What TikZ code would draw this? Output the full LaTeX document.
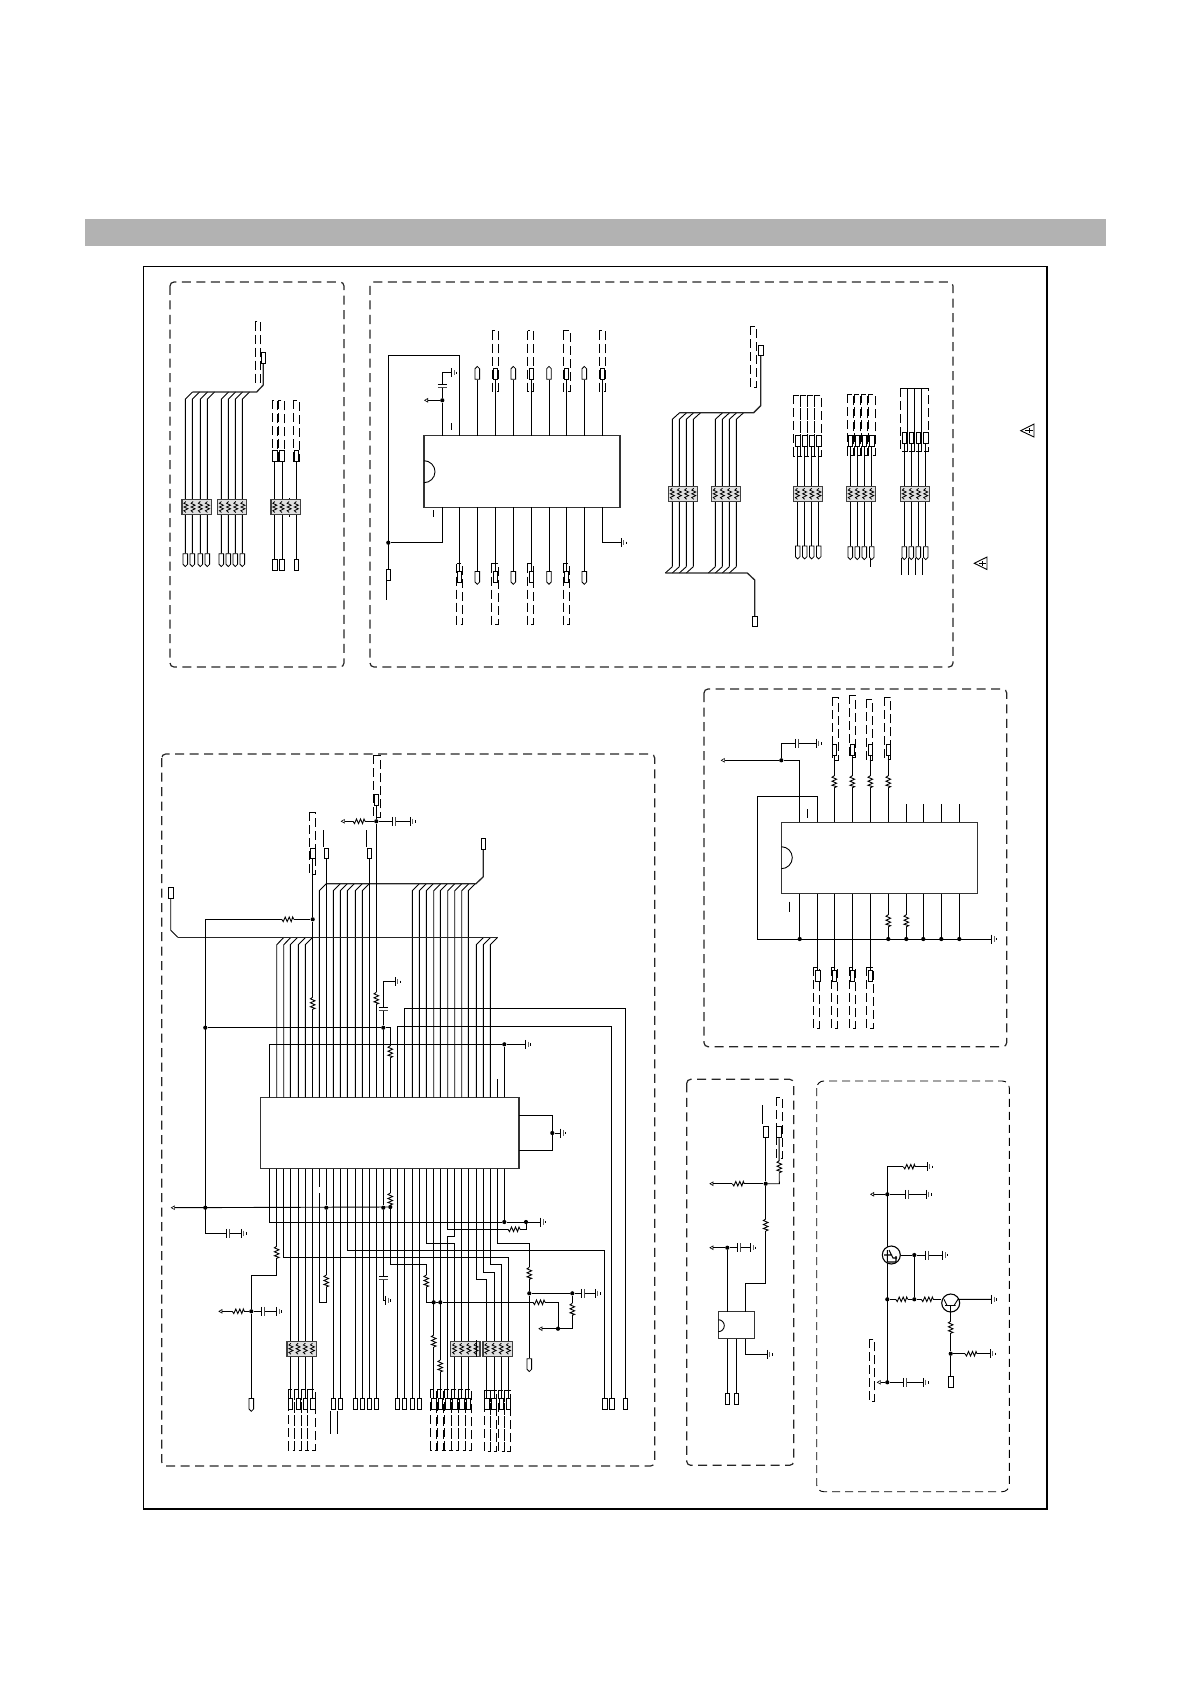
\documentclass[tikz,border=0pt]{standalone}
\usepackage{amsmath, tikz, xcolor}
\usetikzlibrary{arrows.meta, calc, shapes.symbols}
\definecolor{band}{gray}{0.70}
\tikzset{
  wire/.style={line width=0.9pt},
  bus/.style={line width=1.3pt, black!85},
  group/.style={line width=1.2pt, black!85, dash pattern=on 9pt off 5.5pt, rounded corners=4pt},
  dbox/.style={line width=0.7pt, dash pattern=on 9pt off 4pt},
  chip/.style={draw, black!80, fill=white, line width=1.5pt},
  term/.style={draw, fill=white, shape=rectangle, minimum width=4.6pt, minimum height=10.6pt, inner sep=0pt, line width=0.8pt},
  termd/.style={term, shape=signal, signal to=south, signal pointer angle=90},
  termu/.style={term, shape=signal, signal to=north, signal pointer angle=90},
  dot/.style={circle, fill, inner sep=0pt, minimum size=4.2pt},
  sig/.style={wire, -{Triangle[open,length=4pt,width=4.5pt,line width=0.6pt]}},
  vres/.pic={
    \draw[white,line width=1.8pt] (0,-6) -- (0,6);
    \draw[wire] (0,-6) -- (-2.3,-4.5) -- (2.3,-2.5) -- (-2.3,-0.5) -- (2.3,1.5) -- (-2.3,3.5) -- (2.3,5) -- (0,6);
  },
  hres/.pic={
    \draw[white,line width=1.8pt] (-6,0) -- (6,0);
    \draw[wire] (-6,0) -- (-4.5,2.3) -- (-2.5,-2.3) -- (-0.5,2.3) -- (1.5,-2.3) -- (3.5,2.3) -- (5,-2.3) -- (6,0);
  },
  hcap/.pic={
    \draw[white,line width=1.8pt] (-1.5,0) -- (1.5,0);
    \draw[wire] (-1.5,-4.5) -- (-1.5,4.5);
    \draw[line width=1.3pt,black!70] (1.5,-4.5) -- (1.5,4.5);
  },
  vcap/.pic={
    \draw[white,line width=1.8pt] (0,-1.5) -- (0,1.5);
    \draw[wire] (-4.5,-1.5) -- (4.5,-1.5);
    \draw[line width=1.3pt,black!70] (-4.5,1.5) -- (4.5,1.5);
  },
  gnd/.pic={
    \draw[wire] (0,-4.5) -- (0,4.5);
    \draw[line width=1.1pt,black!60] (2.6,-2.6) -- (2.6,2.6);
    \draw[wire] (5,-1.2) -- (5,1.2);
  },
  pack/.pic={
    \draw[fill=black!12,draw=black!75,line width=1.3pt] (-14.6,-7.5) rectangle (14.6,7.5);
    \foreach \o in {-10.75,-3.6,3.6,10.75} {
      \draw[line width=0.8pt] (\o,-5.5) -- (\o-2,-3.7) -- (\o+2,-1.8) -- (\o-2,0) -- (\o+2,1.8) -- (\o-2,3.7) -- (\o,5.5);
    };
  },
}
\newcommand{\dbx}[4]{\draw[dbox] (#1,#2) rectangle (#3,#4);}
\newcommand{\jn}[3]{\node[dot] (#1) at (#2,#3) {};}
\begin{document}
\begin{tikzpicture}[x=1pt,y=-1pt]
\useasboundingbox (0,0) rectangle (1191,1685);
\fill[band] (85,219) rectangle (1106,246);
\draw[line width=1.1pt] (143.5,266.5) rectangle (1047,1509);
\draw[group] (170,282) rectangle (344,667);
\draw[group] (370,282) rectangle (953,667);
\draw[group] (161.7,754) rectangle (654.7,1466);
\draw[group] (704,689) rectangle (1006.7,1046.7);
\draw[group] (686.7,1079.3) rectangle (793.7,1465.3);
\draw[group, black, line width=0.9pt, dash pattern=on 8pt off 5pt, rounded corners=7pt] (816.7,1081) rectangle (1009.3,1491.7);

% first box: two buses and three lines
\foreach \x [count=\i] in {185.3,192.3,200.3,207.3,221.3,228.3,235.3,242.3} {
  \node[termd] (sa\i) at (\x,559) {};
  \draw[wire] (sa\i) -- (\x,399.3) -- ++(7.3,-7.3);
}
\draw[bus] (192.7,392) -- (256.7,392) -- (263.3,385) -- (263.3,363);
\node[term] (ta) at (263.3,358) {};
\dbx{255.3}{321.7}{260.7}{382.3}
\pic at (196.7,507) {pack};
\pic at (232.2,507) {pack};
\foreach \x/\a/\b [count=\i] in {274.7/272.3/277.3,282/278.7/284.3,296.3/293.3/299.3} {
  \dbx{\a}{400.3}{\b}{461}
  \node[term] (tb\i) at (\x,456) {};
  \node[term] (sb\i) at (\x,565) {};
  \draw[wire] (tb\i) -- (sb\i);
}
\draw[wire] (289,498) -- (289,517);
\pic at (285.6,507) {pack};

% second box: chip
\node[chip, minimum width=196pt, minimum height=71.6pt, inner sep=0pt] (ica) at (522,471.5) {};
\draw[wire] (424,460.7) arc (-90:90:11);
\foreach \x/\k [count=\i] in {477.3/0,513.3/0,549/0,584.3/0} {
  \node[termu] (uc\i) at (\x,374) {};
  \draw[wire] (uc\i) -- (\x,435.7);
}
\foreach \x/\a/\b [count=\i] in {495.3/492.3/498.3,531.3/527.7/533.3,566.3/563.3/570.7,602.3/599.3/605.3} {
  \dbx{\a}{330.7}{\b}{391}
  \node[term] (ud\i) at (\x,374) {};
  \draw[wire] (ud\i) -- (\x,435.7);
}
\foreach \x [count=\i] in {477.3,513.3,549,584.3} {
  \node[termd] (lc\i) at (\x,576.7) {};
  \draw[wire] (\x,507.3) -- (lc\i);
}
\foreach \x/\a/\b [count=\i] in {459.3/456.7/462.7,495.3/491.3/498.7,531.3/527.3/533.3,566.3/563.3/569.7} {
  \dbx{\a}{563.5}{\b}{624.5}
  \node[term] (ld\i) at (\x,576.7) {};
  \draw[wire] (\x,507.3) -- (ld\i);
}
\jn{dca}{442.3}{400.3}
\draw[wire] (442.3,435.7) -- (dca) -- (442.3,372.7) -- (451.7,372.7);
\pic at (442.3,386) {vcap};
\pic at (451.7,372.7) {gnd};
\draw[sig] (dca) -- (424,400.3);
\draw[wire] (459.3,435.7) -- (459.3,355.3) -- (388.3,355.3) -- (388.3,570);
\jn{dcb}{388.3}{542.7}
\draw[wire] (dcb) -- (442.3,542.7) -- (442.3,507.3);
\node[term] (tc) at (388.3,575) {};
\draw[wire] (386.7,579) -- (386.7,600);
\draw[wire] (451.7,423) -- (451.7,430);
\draw[wire] (433.7,510) -- (433.7,517);
\draw[wire] (602.3,507.3) -- (602.3,542.7) -- (621,542.7);
\pic at (621,542.7) {gnd};

% second box: buses
\foreach \x [count=\i] in {672.3,679.3,686.3,693.3,715.3,722.3,729.3,736.3} {
  \draw[wire] (\x,566.7) -- (\x,419.3) -- ++(7.3,-6.6);
  \draw[wire] (\x,566.7) -- ++(-7,6.3);
}
\draw[bus] (679.3,412.7) -- (753.7,412.7) -- (760.7,405.7) -- (760.7,356);
\node[term] (td) at (760.7,350.5) {};
\dbx{750.3}{326.3}{756.7}{387.3}
\draw[bus] (665.3,573) -- (747.3,573) -- (754.7,580) -- (754.7,616);
\node[term] (te) at (754.7,621.3) {};
\pic at (683,493.8) {pack};
\pic at (726,493.8) {pack};

% second box: three sets of four
\foreach \x [count=\i] in {797.7,804.7,811.7,818.7} {
  \dbx{\x-4.2}{395.3}{\x+3}{456}
  \node[term] (fa\i) at (\x,441) {};
  \node[termd] (ga\i) at (\x,551.3) {};
  \draw[wire] (fa\i) -- (ga\i);
}
\foreach \x [count=\i] in {850.3,857.3,864.3,871.7} {
  \dbx{\x-3.3}{394.3}{\x+3.3}{455}
  \node[term] (fb\i) at (\x,441) {};
  \node[termd] (gb\i) at (\x,552) {};
  \draw[wire] (fb\i) -- (gb\i);
}
\draw[wire] (870.7,558) -- (870.7,567);
\foreach \x [count=\i] in {904.3,911.3,918.3,925.7} {
  \dbx{\x-4.3}{388.3}{\x+3}{451}
  \node[term] (fc\i) at (\x,438) {};
  \node[termd] (gc\i) at (\x,552) {};
  \draw[wire] (fc\i) -- (gc\i);
  \draw[wire] (\x-3.3,558) -- (\x-3.3,575);
}
\pic at (808.2,493.8) {pack};
\pic at (861,493.8) {pack};
\pic at (915,493.8) {pack};
\draw[wire] (1020.7,430.7) -- (1034,424) -- (1034,437) -- cycle;
\draw[line width=0.5pt] (1025,430.7) -- (1033,430.7) (1029,428) -- (1029,433);
\draw[wire] (974.3,563.3) -- (987,557) -- (987,569.5) -- cycle;
\draw[line width=0.5pt] (979,563.3) -- (986,563.3) (982,561) -- (982,566);

% big chip: pins on top
\node[chip, minimum width=258.7pt, minimum height=71.4pt, inner sep=0pt] (icb) at (389.7,1133) {};
\foreach \x in {276.7,283.7,290.3,298.3,305.3,476.3,483.3,490.3} {
  \draw[wire] (\x,1097.3) -- (\x,944.7) -- ++(7.3,-7.4);
}
\foreach \x in {319.3,333.3,340.3,347.3,355.3,362.3,412.3,419.3,426.3,433.7,440.3,447.7,454.7,461.7,468.3} {
  \draw[wire] (\x,1097.3) -- (\x,890.7) -- ++(7,-7);
}
\draw[bus] (177.7,937.3) -- (497.7,937.3);
\draw[wire] (177.7,937.3) -- (170.7,930.3) -- (170.7,898);
\node[term] (tf) at (170.7,893) {};
\draw[bus] (326.3,883.7) -- (476,883.7) -- (483.3,876.7) -- (483.3,849);
\node[term] (tg) at (483.3,843.7) {};
\dbx{309.3}{812.3}{315.7}{874.7}
\node[term] (th) at (312.7,853.3) {};
\jn{dh}{312.7}{919.3}
\draw[wire] (312.7,1097.3) -- (dh) -- (th);
\pic at (312.7,1003.3) {vres};
\draw[wire] (dh) -- (205.3,919.3) -- (205.3,1233.3) -- (228,1233.3);
\pic at (287.7,919.3) {hres};
\pic at (228,1233.3) {hcap};
\draw[wire] (229.5,1233.3) -- (241,1233.3);
\pic at (241,1233.3) {gnd};
\node[term] (ti) at (326.3,853.3) {};
\draw[wire] (326.3,1097.3) -- (ti);
\draw[wire] (323.3,830) -- (323.3,847);
\node[term] (tj) at (369.3,853.3) {};
\draw[wire] (369.3,1097.3) -- (tj);
\draw[wire] (366.3,830) -- (366.3,847);
\dbx{373.3}{755}{380}{817.3}
\node[term] (tk) at (376.3,799.7) {};
\jn{dk}{376.3}{821.3}
\draw[wire] (376.3,1097.3) -- (dk) -- (tk);
\pic at (376.3,998.3) {vres};
\draw[sig] (dk) -- (340.7,821.3);
\pic at (359,821.3) {hres};
\draw[wire] (dk) -- (410,821.3);
\pic at (394,821.3) {hcap};
\pic at (410,821.3) {gnd};
\jn{dl}{383.3}{1027.7}
\jn{dm}{205.3}{1027.7}
\draw[wire] (383.3,1097.3) -- (dl) -- (383.3,981.7) -- (395,981.7);
\pic at (383.3,1009.3) {vcap};
\pic at (395,981.7) {gnd};
\draw[wire] (dm) -- (dl) -- (390.3,1027.7) -- (390.3,1097.3);
\pic at (390.3,1051.7) {vres};
\draw[wire] (397.3,1097.3) -- (397.3,1026.3) -- (611.7,1026.3) -- (611.7,1398);
\draw[wire] (404.3,1097.3) -- (404.3,1008.3) -- (625.3,1008.3) -- (625.3,1398);
\draw[wire] (497.3,1097.3) -- (497.3,1079.3);
\jn{dn}{504.3}{1044.3}
\draw[wire] (269.3,1097.3) -- (269.3,1044.3) -- (dn) -- (525.7,1044.3);
\draw[wire] (504.3,1097.3) -- (dn);
\pic at (525.7,1044.3) {gnd};
\jn{dp}{552.3}{1133}
\draw[wire] (519,1115.7) -- (552.3,1115.7) -- (552.3,1150.3) -- (519,1150.3);
\draw[wire] (dp) -- (560.7,1133);
\pic at (560.7,1133) {gnd};

% big chip: pins below
\jn{dq}{504.3}{1222}
\jn{dr}{526}{1222}
\draw[wire] (269.3,1168.7) -- (269.3,1222) -- (dq) -- (dr) -- (540.7,1222);
\draw[wire] (504.3,1168.7) -- (dq);
\pic at (540.7,1222) {gnd};
\draw[wire] (dr) -- (526,1229.3) -- (447.7,1229.3) -- (447.7,1168.7);
\pic at (514,1229.3) {hres};
\node[termd] (ts) at (251.3,1403.7) {};
\jn{ds}{251.3}{1311.3}
\draw[wire] (276.7,1168.7) -- (276.7,1275.3) -- (251.3,1275.3) -- (ds) -- (ts);
\pic at (276.7,1252.3) {vres};
\draw[sig] (ds) -- (218.3,1311.3);
\pic at (238.3,1311.3) {hres};
\draw[wire] (ds) -- (276.7,1311.3);
\pic at (262.7,1311.3) {hcap};
\pic at (276.7,1311.3) {gnd};
\draw[wire] (283.7,1168.7) -- (283.7,1257.3) -- (508.3,1257.3) -- (508.3,1400);
\foreach \x/\a/\b [count=\i] in {290.3/288.3/294.3,298.3/294.3/301,305.3/301/307.7,312.7/307.7/315} {
  \dbx{\a}{1389.3}{\b}{1450}
  \node[term] (pa\i) at (\x,1403.7) {};
  \draw[wire] (\x,1168.7) -- (pa\i);
}
\pic at (301.7,1348.7) {pack};
\draw[wire] (319.3,1168.7) -- (319.3,1186.7);
\jn{dt}{326.3}{1207.7}
\draw[wire] (326.3,1168.7) -- (dt) -- (326.3,1302.3) -- (319.3,1302.3) -- (319.3,1193);
\pic at (326.3,1281) {vres};
\foreach \x [count=\i] in {333.3,340.3} {
  \node[term] (pb\i) at (\x,1404) {};
  \draw[wire] (\x,1168.7) -- (pb\i);
  \draw[wire] (\x-3,1411) -- (\x-3,1434);
}
\draw[wire] (347.3,1168.7) -- (347.3,1250.3) -- (604.7,1250.3) -- (604.7,1398);
\foreach \x [count=\i] in {355.3,362.3,369.3,376.3,397.3,404.3,412.3,419.3} {
  \node[term] (pc\i) at (\x,1404) {};
  \draw[wire] (\x,1168.7) -- (pc\i);
}
\jn{du}{383.3}{1207.7}
\draw[wire] (383.3,1168.7) -- (du) -- (383.3,1300.3) -- (385.5,1300.3);
\pic at (383.3,1277.7) {vcap};
\pic at (385.5,1300.3) {gnd};
\jn{dv}{390.3}{1207}
\draw[sig] (dv) -- (170.7,1207.7);
\jn{dw}{205.3}{1207.7}
\draw[wire] (390.3,1168.7) -- (dv) -- (390.3,1264.3) -- (426.3,1264.3) -- (426.3,1302.3) -- (433.7,1302.3);
\pic at (390.3,1199) {vres};
\pic at (426.3,1281) {vres};
\jn{dx}{433.7}{1302.3}
\jn{dy}{440.3}{1302.3}
\draw[wire] (dx) -- (dy) -- (558.7,1302.3) -- (558.7,1328.7);
\pic at (539,1302.3) {hres};
\jn{dz}{558}{1328.7}
\foreach \x/\a/\b in {433.7/430.7/436.7,440.3/437.3/443.7,447.7/444.7/451,454.7/451.7/458.3,461.7/458.3/465,468.3/465/471.7} {
  \dbx{\a}{1389.3}{\b}{1450}
}
\node[term] (qa) at (433.7,1404) {};
\draw[wire] (433.7,1168.7) -- (qa);
\pic at (433.7,1341) {vres};
\node[term] (qb) at (440.3,1404) {};
\draw[wire] (440.3,1168.7) -- (qb);
\pic at (440.3,1366) {vres};
\node[term] (qc) at (447.7,1404) {};
\draw[wire] (454.7,1168.7) -- (454.7,1236.7) -- (447.7,1236.7) -- (qc);
\node[term] (qd) at (454.7,1404) {};
\draw[wire] (426.3,1168.7) -- (426.3,1243.3) -- (454.7,1243.3) -- (qd);
\node[term] (qe) at (461.7,1404) {};
\draw[wire] (461.7,1168.7) -- (qe);
\node[term] (qf) at (468.3,1404) {};
\draw[wire] (468.3,1168.7) -- (qf);
\draw[wire] (476.3,1168.7) -- (476.3,1279.3) -- (486.7,1279.3) -- (486.7,1400);
\draw[wire] (483.3,1168.7) -- (483.3,1272.3) -- (494,1272.3) -- (494,1400);
\draw[wire] (490.3,1168.7) -- (490.3,1264.3) -- (501.3,1264.3) -- (501.3,1400);
\foreach \x/\a/\b [count=\i] in {486.7/484.3/490.3,494/490.3/496.7,501.3/498.3/504,508.3/504/510.7} {
  \dbx{\a}{1390}{\b}{1451.7}
  \node[term] (pd\i) at (\x,1404) {};
}
\pic at (465.3,1348.7) {pack};
\draw[wire] (476.3,1340) -- (476.3,1357.3);
\pic at (497.7,1348.7) {pack};
\jn{ea}{529.3}{1293.3}
\node[termd] (ta2) at (529.3,1364) {};
\draw[wire] (497.3,1168.7) -- (497.3,1243.3) -- (529.3,1243.3) -- (ea) -- (ta2);
\pic at (529.3,1273.3) {vres};
\jn{eb}{572.3}{1293.3}
\draw[wire] (ea) -- (eb) -- (595,1293.3);
\pic at (583.3,1293.3) {hcap};
\pic at (595,1293.3) {gnd};
\draw[wire] (eb) -- (572.3,1328.7) -- (dz);
\pic at (572.3,1309.3) {vres};
\draw[sig] (dz) -- (538.3,1328.7);
\node[term] (ra) at (604.7,1404) {};
\node[term] (rb) at (611.7,1404) {};
\node[term] (rc) at (625.3,1404) {};

% right chip
\node[chip, minimum width=196pt, minimum height=71.4pt, inner sep=0pt] (icc) at (879.3,858) {};
\draw[wire] (781.3,846.7) arc (-90:90:11);
\jn{fa}{781.3}{760.3}
\draw[sig] (799.7,822.3) -- (799.7,760.3) -- (fa) -- (720.7,760.3);
\draw[wire] (fa) -- (781.3,743.3) -- (816,743.3);
\pic at (797.3,743.3) {hcap};
\pic at (816,743.3) {gnd};
\draw[wire] (817.7,822.3) -- (817.7,796.3) -- (757.7,796.3) -- (757.7,939) -- (991.7,939);
\pic at (991.7,939) {gnd};
\draw[wire] (807.3,809.3) -- (807.3,818.3);
\draw[wire] (789.3,901.7) -- (789.3,911.7);
\foreach \x/\a/\b/\c/\d [count=\i] in {834.3/832.3/838.3/697.3/760,852.3/849.3/855.7/695.3/757.3,870.3/866/872.7/699.3/760.7,888.3/884.7/890.7/697.3/759.3} {
  \dbx{\a}{\c}{\b}{\d}
  \node[term] (ha\i) at (\x,750) {};
  \draw[wire] (\x,822.3) -- (ha\i);
  \pic at (\x,781.7) {vres};
}
\foreach \x in {906.3,923.3,941.3,959.3} {
  \draw[wire] (\x,822.3) -- (\x,804);
}
\foreach \x/\a/\b [count=\i] in {817.7/813.3/819.3,834.3/831.3/837.3,852.3/849.3/855.3,870.3/866/873.3} {
  \dbx{\a}{967.3}{\b}{1028.3}
  \node[term] (hb\i) at (\x,976) {};
  \draw[wire] (\x,893.7) -- (hb\i);
}
\foreach \x [count=\i] in {799.7,888.3,906.3,923.3,941.3,959.3} {
  \jn{fb\i}{\x}{939}
  \draw[wire] (\x,893.7) -- (fb\i);
}
\pic at (888.3,920.7) {vres};
\pic at (906.3,920.7) {vres};

% small chip
\node[chip, minimum width=36pt, minimum height=27pt, inner sep=0pt] (icd) at (736.3,1325.2) {};
\draw[wire] (718.3,1319.7) arc (-90:90:6);
\jn{ga}{727.3}{1247.7}
\draw[wire] (727.3,1311.7) -- (ga);
\draw[sig] (ga) -- (709.3,1247.7);
\draw[wire] (ga) -- (750.7,1247.7);
\pic at (739.3,1247.7) {hcap};
\pic at (750.7,1247.7) {gnd};
\node[term] (va) at (765.7,1131.7) {};
\jn{gb}{765.7}{1183.7}
\draw[wire] (745.3,1311.7) -- (745.3,1283.3) -- (765.7,1283.3) -- (gb) -- (va);
\pic at (765.7,1225) {vres};
\draw[wire] (762.3,1105) -- (762.3,1124);
\draw[sig] (gb) -- (709.3,1183.7);
\pic at (738.3,1183.7) {hres};
\dbx{776.7}{1097.3}{782.3}{1158.3}
\node[term] (vb) at (779,1131.7) {};
\draw[wire] (gb) -- (779.3,1183.7) -- (vb);
\pic at (779.3,1166.7) {vres};
\node[term] (vc) at (727.3,1399) {};
\node[term] (vd) at (736.3,1399) {};
\draw[wire] (727.3,1338.7) -- (vc);
\draw[wire] (736.3,1338.7) -- (vd);
\draw[wire] (745.3,1338.7) -- (745.3,1354.3) -- (767.3,1354.3);
\pic at (767.3,1354.3) {gnd};

% two transistors
\draw[wire] (927.3,1166.7) -- (887.3,1166.7) -- (887.3,1382.3);
\pic at (909.3,1166.7) {hres};
\pic at (927.3,1166.7) {gnd};
\jn{ka}{887.3}{1194.3}
\draw[sig] (ka) -- (870,1194.3);
\draw[wire] (ka) -- (926,1194.3);
\pic at (907.3,1194.3) {hcap};
\pic at (926,1194.3) {gnd};
\node[draw, circle, fill=white, line width=1.1pt, minimum size=18pt, inner sep=0pt] (qone) at (891.3,1255) {};
\draw[line width=1.1pt] (887.3,1250) -- (887.3,1262) -- (896,1262) -- (896,1256) (889,1250) -- (893,1258) -- (897,1258) (884,1255) -- (892,1255);
\jn{kb}{914.3}{1255}
\draw[wire] (qone) -- (kb) -- (942.7,1255);
\pic at (926.7,1255) {hcap};
\pic at (942.7,1255) {gnd};
\jn{kc}{914.3}{1299.3}
\draw[wire] (kb) -- (kc);
\jn{kd}{887.3}{1299.3}
\node[draw, circle, line width=1.1pt, minimum size=18pt, inner sep=0pt] (qtwo) at (950.7,1303) {};
\draw[wire] (kd) -- (kc) -- (qtwo.west |- kc);
\pic at (901.7,1299.3) {hres};
\pic at (927.3,1299.3) {hres};
\draw[wire] (945,1305.5) -- (955.5,1305.5) (947,1305.5) -- (944,1299.3) (954,1305.5) -- (958,1299.3) -- (991.7,1299.3);
\pic at (991.7,1299.3) {gnd};
\node[term] (vf) at (950.7,1382) {};
\jn{ke}{950.7}{1353.7}
\draw[wire] (950.7,1305.5) -- (ke) -- (vf);
\pic at (950.7,1327.3) {vres};
\draw[wire] (ke) -- (990,1353.7);
\pic at (971,1353.7) {hres};
\pic at (990,1353.7) {gnd};
\jn{kf}{887.3}{1382.3}
\draw[sig] (kf) -- (876.7,1382.3);
\draw[wire] (kf) -- (923.3,1382.3);
\pic at (905,1382.3) {hcap};
\pic at (923.3,1382.3) {gnd};
\dbx{869.3}{1339.3}{874.3}{1401.3}
\end{tikzpicture}
\end{document}
